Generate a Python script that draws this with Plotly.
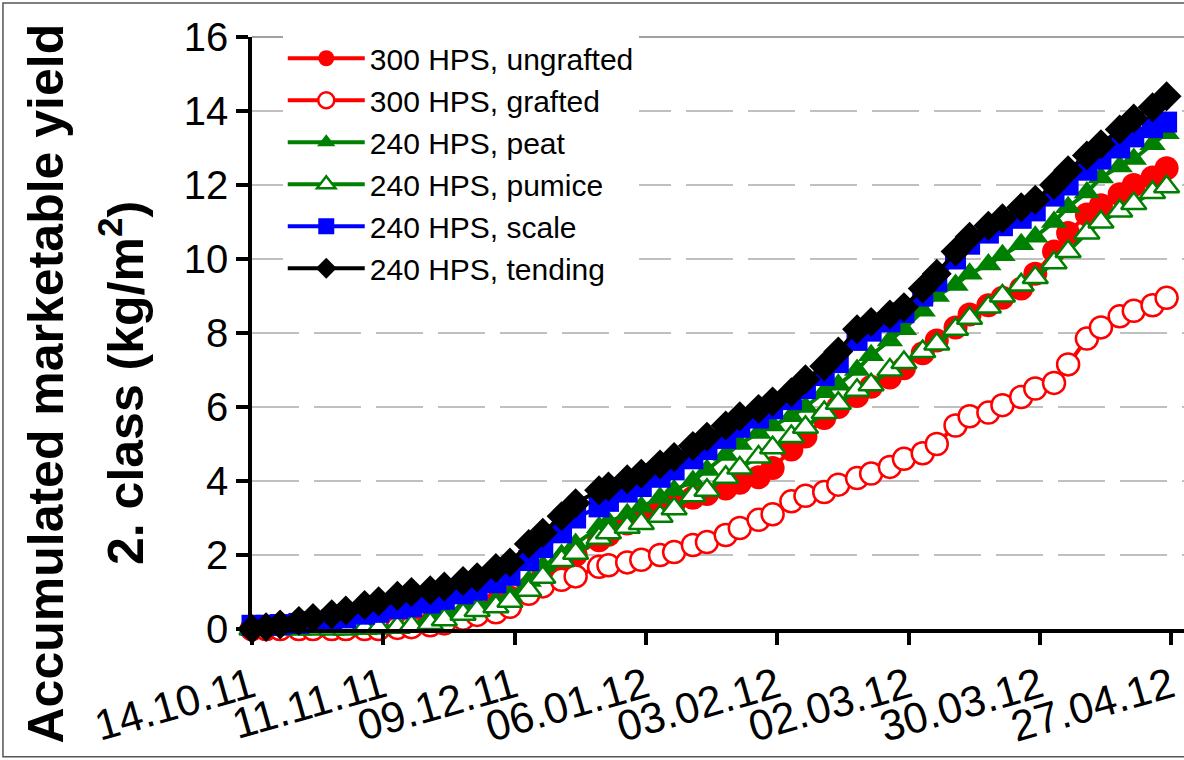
import plotly.graph_objects as go

# Harvest dates
dates = [
    "2011-10-14", "2011-10-17", "2011-10-20", "2011-10-24", "2011-10-27", "2011-10-31",
    "2011-11-03", "2011-11-07", "2011-11-10", "2011-11-14", "2011-11-17", "2011-11-21",
    "2011-11-24", "2011-11-28", "2011-12-01", "2011-12-05", "2011-12-08", "2011-12-12",
    "2011-12-15", "2011-12-19", "2011-12-22", "2011-12-27", "2011-12-29", "2012-01-02",
    "2012-01-05", "2012-01-09", "2012-01-12", "2012-01-16", "2012-01-19", "2012-01-23",
    "2012-01-26", "2012-01-30", "2012-02-02", "2012-02-06", "2012-02-09", "2012-02-13",
    "2012-02-16", "2012-02-20", "2012-02-23", "2012-02-27", "2012-03-01", "2012-03-05",
    "2012-03-08", "2012-03-12", "2012-03-15", "2012-03-19", "2012-03-22", "2012-03-26",
    "2012-03-29", "2012-04-02", "2012-04-05", "2012-04-09", "2012-04-12", "2012-04-16",
    "2012-04-19", "2012-04-23", "2012-04-26",
]

hps300_ungrafted = [
    0.0, 0.0, 0.0, 0.0, 0.0, 0.0, 0.0, 0.02, 0.03, 0.05, 0.1, 0.15,
    0.25, 0.35, 0.5, 0.7, 0.85, 1.1, 1.4, 1.7, 2.0, 2.4, 2.55, 2.85,
    3.05, 3.25, 3.4, 3.55, 3.65, 3.8, 3.95, 4.1, 4.35, 4.85, 5.2, 5.7,
    6.0, 6.3, 6.55, 6.8, 7.05, 7.45, 7.8, 8.15, 8.5, 8.75, 8.95, 9.2,
    9.6, 10.2, 10.7, 11.2, 11.45, 11.75, 12.0, 12.2, 12.45,
]

hps300_grafted = [
    0.0, 0.0, 0.0, 0.0, 0.0, 0.0, 0.0, 0.0, 0.0, 0.03, 0.05, 0.1,
    0.15, 0.28, 0.38, 0.45, 0.6, 0.95, 1.15, 1.33, 1.42, 1.68, 1.72, 1.8,
    1.87, 2.0, 2.08, 2.27, 2.35, 2.54, 2.73, 2.95, 3.1, 3.45, 3.6, 3.7,
    3.9, 4.08, 4.2, 4.38, 4.6, 4.75, 5.0, 5.5, 5.75, 5.85, 6.05, 6.27,
    6.5, 6.65, 7.15, 7.85, 8.15, 8.45, 8.6, 8.75, 8.95,
]

hps240_peat = [
    0.0, 0.0, 0.0, 0.0, 0.0, 0.02, 0.03, 0.05, 0.05, 0.08, 0.12, 0.3,
    0.4, 0.55, 0.65, 0.75, 0.9, 1.3, 1.7, 2.0, 2.3, 2.75, 2.9, 3.1,
    3.3, 3.55, 3.75, 4.0, 4.3, 4.7, 5.0, 5.3, 5.5, 5.75, 6.0, 6.4,
    6.6, 7.0, 7.4, 7.8, 8.1, 8.6, 9.0, 9.3, 9.6, 9.85, 10.1, 10.4,
    10.6, 11.0, 11.4, 11.8, 12.2, 12.5, 12.7, 13.1, 13.4,
]

hps240_pumice = [
    0.0, 0.0, 0.0, 0.0, 0.0, 0.0, 0.0, 0.02, 0.03, 0.05, 0.08, 0.15,
    0.25, 0.4, 0.5, 0.6, 0.75, 1.05, 1.4, 1.85, 2.05, 2.45, 2.6, 2.75,
    2.85, 3.05, 3.25, 3.6, 3.75, 4.1, 4.35, 4.65, 4.9, 5.2, 5.45, 5.85,
    6.1, 6.45, 6.6, 7.0, 7.2, 7.5, 7.7, 8.1, 8.4, 8.7, 9.0, 9.3,
    9.5, 9.9, 10.2, 10.7, 11.0, 11.3, 11.5, 11.8, 11.95,
]

hps240_scale = [
    0.1, 0.1, 0.12, 0.15, 0.2, 0.25, 0.3, 0.4, 0.45, 0.55, 0.6, 0.7,
    0.8, 0.95, 1.05, 1.25, 1.45, 1.85, 2.2, 2.6, 3.0, 3.3, 3.45, 3.7,
    3.85, 4.1, 4.3, 4.6, 4.85, 5.15, 5.45, 5.7, 5.95, 6.2, 6.5, 6.85,
    7.2, 7.8, 8.05, 8.3, 8.55, 9.0, 9.4, 10.0, 10.4, 10.7, 10.9, 11.1,
    11.3, 11.7, 12.0, 12.4, 12.7, 13.0, 13.3, 13.55, 13.7,
]

hps240_tending = [
    0.0, 0.05, 0.12, 0.22, 0.3, 0.4, 0.5, 0.65, 0.75, 0.9, 1.0, 1.05,
    1.15, 1.3, 1.4, 1.65, 1.8, 2.3, 2.6, 3.05, 3.4, 3.75, 3.85, 4.05,
    4.2, 4.45, 4.65, 4.95, 5.2, 5.5, 5.75, 5.95, 6.15, 6.4, 6.75, 7.1,
    7.5, 8.1, 8.3, 8.5, 8.7, 9.2, 9.6, 10.2, 10.6, 10.9, 11.1, 11.4,
    11.6, 12.0, 12.4, 12.8, 13.1, 13.5, 13.8, 14.1, 14.4,
]

tick_dates = ["2011-10-14", "2011-11-11", "2011-12-09", "2012-01-06",
              "2012-02-03", "2012-03-02", "2012-03-30", "2012-04-27"]
tick_labels = ["14.10.11", "11.11.11", "09.12.11", "06.01.12",
               "03.02.12", "02.03.12", "30.03.12", "27.04.12"]
y_ticks = [0, 2, 4, 6, 8, 10, 12, 14, 16]

title_line1 = "Accumulated marketable yield"
title_line2 = "2. class (kg/m<sup>2</sup>)"

FONT = "Liberation Sans, Arial, sans-serif"

series = [
    ("300 HPS, ungrafted", hps300_ungrafted, "#FF0000", "circle", 24, "#FF0000", 0),
    ("300 HPS, grafted", hps300_grafted, "#FF0000", "circle", 22, "#FFFFFF", 2.5),
    ("240 HPS, peat", hps240_peat, "#008000", "triangle-up", 23, "#008000", 0),
    ("240 HPS, pumice", hps240_pumice, "#008000", "triangle-up", 22, "#FFFFFF", 2.5),
    ("240 HPS, scale", hps240_scale, "#0000FF", "square", 21, "#0000FF", 0),
    ("240 HPS, tending", hps240_tending, "#000000", "diamond", 23, "#000000", 0),
]

fig = go.Figure()
for name, vals, col, sym, size, fill, lw in series:
    fig.add_trace(go.Scatter(
        x=dates, y=vals, name=name, mode="lines+markers",
        line=dict(color=col, width=4),
        marker=dict(symbol=sym, size=size, color=fill,
                    line=dict(color=col, width=lw)),
        cliponaxis=False,
    ))

fig.update_layout(
    width=1184, height=760,
    margin=dict(l=252, r=0, t=37, b=131),
    paper_bgcolor="white", plot_bgcolor="white",
    font=dict(family=FONT, color="black"),
    showlegend=True,
    legend=dict(x=0.033, y=1.008, xanchor="left", yanchor="top",
                bgcolor="white", font=dict(size=30, family=FONT),
                itemwidth=77, tracegroupgap=0),
    xaxis=dict(
        type="date",
        range=["2011-10-14", "2012-04-29 17:00"],
        tickvals=tick_dates, ticktext=tick_labels,
        tickangle=-16, tickfont=dict(size=43, family=FONT),
        ticks="outside", ticklen=12, tickwidth=3.5, tickcolor="black",
        showline=True, linecolor="black", linewidth=4,
        showgrid=False, zeroline=False,
    ),
    yaxis=dict(
        range=[0, 16], tickvals=y_ticks,
        tickfont=dict(size=40, family=FONT),
        ticks="outside", ticklen=12, tickwidth=3.5, tickcolor="black",
        showline=True, linecolor="black", linewidth=3.5,
        showgrid=True, gridcolor="#C0C0C0", gridwidth=2,
        griddash="47px,15px", zeroline=False,
    ),
    annotations=[
        dict(text="<b>" + title_line1 + "</b>", textangle=-90,
             xref="paper", yref="paper", x=-0.2205, y=0.4155,
             xanchor="center", yanchor="middle", showarrow=False,
             font=dict(size=50, family=FONT, color="black")),
        dict(text="<b>" + title_line2 + "</b>", textangle=-90,
             xref="paper", yref="paper", x=-0.1395, y=0.4155,
             xanchor="center", yanchor="middle", showarrow=False,
             font=dict(size=50, family=FONT, color="black")),
    ],
    shapes=[
        dict(type="line", xref="paper", yref="paper", x0=0, x1=1.01, y0=1, y1=1,
             line=dict(color="#A0A0A0", width=2), layer="above"),
        dict(type="rect", xref="paper", yref="paper", x0=-0.2672, x1=1.05,
             y0=-0.216, y1=1.0574, line=dict(color="#555555", width=1.5),
             fillcolor="rgba(0,0,0,0)", layer="below"),
    ],
)

fig.write_html("out.html")
